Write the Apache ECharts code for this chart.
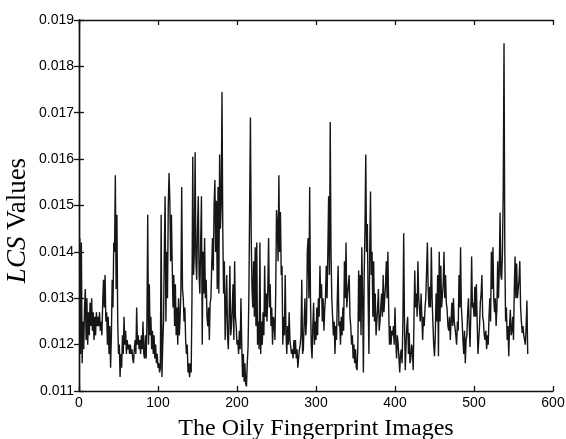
<!DOCTYPE html>
<html>
<head>
<meta charset="utf-8">
<script src="https://cdn.jsdelivr.net/npm/echarts@6/dist/echarts.min.js"></script>
<style>
html,body{margin:0;padding:0;background:#fff;}
#c{width:566px;height:439px;}
</style>
</head>
<body>
<div id="c"></div>
<script>
// LCS values (units of 1e-4), index 1..N
const lcsValues = [
143,118,142,116,125,119,128,132,121,130,
120,127,122,129,124,130,123,127,121,126,
122,127,124,126,124,127,123,125,122,129,
134,128,135,125,127,120,126,118,124,115,
122,134,128,142,140,156.5,132,148,125,118,
120,113,118,115,122,118,126,120,123,118,
121,119,120,118,120,118,119,117,116,119,
121,118,128,120,122,119,121,118,122,119,
125,118,117,122,117,125,148,120,133,122,
126,119,123,118,122,117,120,116,118,115,
116,114,115,148,113,120,125,140,152,125,
140,130,150,157,151,138,148,137,128,135,
124,133,122,128,120,130,122,126,132,154,
132,130,125,128,121,118,120,114,116,113,
116,114,130,160.5,135,140,161.5,138,134,145,
152,135,131,142,152,120,140,131,143,130,
134,126,124,128,121,129,130,137,143,136,
150,155.5,140,151,132,154,131,161,145,150,
174.5,145,131,138,121,128,135,122,119,126,
137,122,124,128,133,121,138,126,124,120,
121,118,123,119,130,120,113,118,112,116,
111.5,111,116,119.5,130,150,169,143,132,128,
138,126,141,124,142,120,125,119,142,118,
125,120,127,122,137,126,131,125,132,143,
128,133,124,128,120,126,125,121,131,149,
146,138,156.5,140,148.6,135,137,120,126,122,
135,123,118,124,120,127,121,121,118,119,
117,121,118,121,117,119,115,117,119,120,
122,134,118,119,125,130,122,125,140,143,
130,154,130,120,117,124,129,120,125,121,
128,122,130,126,137,130,133,125,130,123,
127.5,130,137,130,140,152,135,168,140,130,
126,122,125,118,124,121,130,137,124,125,
120,126,122,128,123,138,130,142,128,131,
131,135,126,124,120,122,117,120,116,119,
115,114.5,120,136,125,135,122,141,130,114,
135,145,161,140,146,130,118,140,153,135,
140,126,138,125,131,122,122,128,132,123,
125,128,131,126,135,127,130,133,138,130,
140,128,120,124,120,123,122,124,120,128,
121,117,122,120,117,114,118,119,116,125,
144,125,114.5,120,124,126,118,122.5,116,117,
120,119,114.5,125,136,128,131,126,138,130,
130,125,131,126,121,126,124,128,130,136,
142,132,128,132.5,128,141,130,124.5,120,117.5,
122,131,125,135,117.5,140,125,137,128,128,
133,140,130,135,129,127.5,124,123,126,121,
125,129,124,130,125,125,122,120,125,123,
135,128,141,128,125,121,118,123,116,121,
122,127,130,124,119.5,127,139,128,129,126,
132.5,126,133,125,118,121,124,129,131,135,
126,125,122,121,123,119,122,120,126,130,
125,140,132,141,130,127,130,124,128,138,
130,136,148.5,135,134,140,153,185,140,125,
128,121,124,117.5,124,127.5,122,123,126,121,
132,139,130,137.5,130,130,134,138,128,125,
122.5,124,122,121,120,124,129.5,118
];
const xTicks = [0,100,200,300,400,500,600];
const yTicks = [0.011,0.012,0.013,0.014,0.015,0.016,0.017,0.018,0.019];

const seriesData = lcsValues.map((v, i) => [i + 1, v / 10000]);

const chart = echarts.init(document.getElementById('c'), null, {renderer: 'canvas'});
const labelFont = {fontFamily: 'Liberation Sans, Arial, sans-serif', fontSize: 14, color: '#000'};
const axisLineStyle = {show: true, lineStyle: {color: '#111', width: 1.4}};
const tickStyle = {show: true, inside: true, length: 5, lineStyle: {color: '#111', width: 1.3}};

chart.setOption({
  backgroundColor: '#fff',
  animation: false,
  grid: {left: 79, right: 13, top: 20, bottom: 48, containLabel: false, outerBoundsMode: 'none'},
  xAxis: [{
    type: 'value', min: xTicks[0], max: xTicks[xTicks.length - 1], interval: 100,
    position: 'bottom',
    name: 'The Oily Fingerprint Images', nameLocation: 'middle', nameGap: 26,
    nameMoveOverlap: false,
    nameTextStyle: {fontFamily: 'Liberation Serif, Times New Roman, serif', fontSize: 24, color: '#000'},
    axisLine: axisLineStyle, axisTick: tickStyle,
    axisLabel: Object.assign({margin: 5}, labelFont),
    splitLine: {show: false}
  }, {
    type: 'value', min: xTicks[0], max: xTicks[xTicks.length - 1], interval: 100,
    position: 'top',
    axisLine: axisLineStyle, axisTick: tickStyle,
    axisLabel: {show: false}, splitLine: {show: false}
  }],
  yAxis: [{
    type: 'value', min: yTicks[0], max: yTicks[yTicks.length - 1], interval: 0.001,
    position: 'left',
    name: '{i|LCS} Values', nameLocation: 'middle', nameGap: 48, nameRotate: 90,
    nameMoveOverlap: false,
    nameTextStyle: {
      fontFamily: 'Liberation Serif, Times New Roman, serif', fontSize: 27, color: '#000',
      padding: [0, 30, 0, 0],
      rich: {i: {fontFamily: 'Liberation Serif, Times New Roman, serif', fontSize: 27, fontStyle: 'italic', color: '#000'}}
    },
    axisLine: axisLineStyle, axisTick: tickStyle,
    axisLabel: Object.assign({margin: 5, formatter: v => v.toFixed(3)}, labelFont),
    splitLine: {show: false}
  }, {
    type: 'value', min: yTicks[0], max: yTicks[yTicks.length - 1], interval: 0.001,
    position: 'right',
    axisLine: axisLineStyle, axisTick: tickStyle,
    axisLabel: {show: false}, splitLine: {show: false}
  }],
  series: [{
    type: 'line',
    xAxisIndex: 0, yAxisIndex: 0,
    data: seriesData,
    showSymbol: false, symbol: 'none',
    lineStyle: {color: '#161616', width: 1.4},
    silent: true
  }]
});
</script>
</body>
</html>
